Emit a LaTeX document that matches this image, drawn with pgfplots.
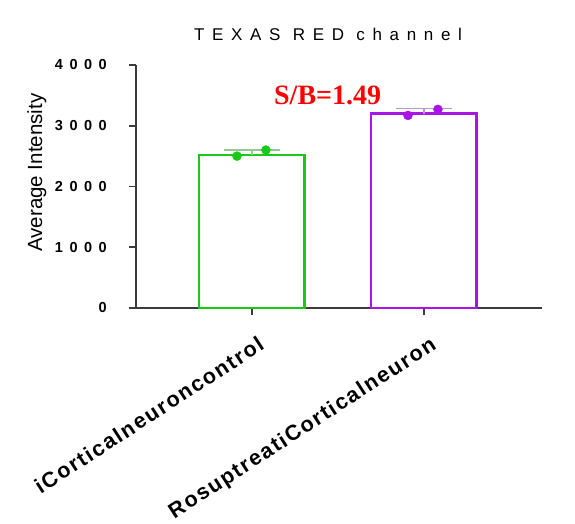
\documentclass[border=0pt]{standalone}
\usepackage{fontspec}
\setmainfont{Liberation Sans}
\newfontfamily\spaced[LetterSpace=45]{Liberation Sans}
\newfontfamily\spacedbold[LetterSpace=8]{Liberation Sans Bold}
\newfontfamily\digitbold[LetterSpace=45]{Liberation Sans Bold}
\newfontfamily\timesbold{Liberation Serif Bold}
\usepackage{pgfplots}
\pgfplotsset{compat=1.18}
\definecolor{cgreen}{RGB}{25,200,25}
\definecolor{cpurple}{RGB}{170,20,230}
\definecolor{axgray}{RGB}{60,60,60}
\begin{document}
\begin{tikzpicture}
\begin{axis}[
  scale only axis,
  width=406pt, height=243pt,
  xmin=-0.674, xmax=1.686,
  ymin=0, ymax=4000,
  axis x line*=bottom, axis y line*=left,
  axis line style={axgray, line width=1.6pt},
  xtick={0,1},
  xticklabels={iCorticalneuroncontrol, RosuptreatiCorticalneuron},
  xticklabel style={rotate=33, anchor=north east, font=\spacedbold\fontsize{21.5}{21.5}\selectfont, inner sep=0pt, xshift=-6.7pt, yshift=-19.6pt},
  ytick={0,1000,2000,3000,4000},
  yticklabels={0,1000,2000,3000,4000},
  yticklabel style={font=\digitbold\fontsize{14.5}{14.5}\selectfont, inner sep=0pt, xshift=-22pt},
  tick style={axgray, line width=1.6pt},
  major tick length=7pt,
  tick align=outside,
  ylabel={Average Intensity},
  ylabel style={font=\fontsize{20.5}{20.5}\selectfont, at={(axis description cs:0,0.557)}, anchor=south, yshift=86pt},
  title={\spaced TEXAS RED channel},
  title style={font=\fontsize{17}{17}\selectfont, at={(rel axis cs:0.473,1)}, anchor=south, yshift=15pt},
  clip=false,
]
\addplot[ybar, bar width=0.615, draw=cgreen, fill=white, line width=2.8pt, bar shift=0pt] coordinates {(0,2520)};
\addplot[ybar, bar width=0.615, draw=cpurple, fill=white, line width=2.8pt, bar shift=0pt] coordinates {(1,3200)};
\addplot[only marks, mark=*, mark size=0pt, draw=none,
  error bars/.cd, y dir=plus, y explicit,
  error bar style={cgreen!50!gray!60, line width=1.2pt},
  error mark options={rotate=90, mark size=28pt, line width=1.2pt, cgreen!50!gray!60}]
  coordinates {(0,2520) +- (0,80)};
\addplot[only marks, mark=*, mark size=0pt, draw=none,
  error bars/.cd, y dir=plus, y explicit,
  error bar style={cpurple!50!gray!60, line width=1.2pt},
  error mark options={rotate=90, mark size=28pt, line width=1.2pt, cpurple!50!gray!60}]
  coordinates {(1,3200) +- (0,80)};
\addplot[only marks, mark=*, mark size=4.5pt, cgreen] coordinates {(-0.087,2500) (0.081,2600)};
\addplot[only marks, mark=*, mark size=4.5pt, cpurple] coordinates {(0.907,3170) (1.081,3270)};
\node[font=\timesbold\fontsize{28}{28}\selectfont, text=red] at (axis cs:0.44,3500) {S/B=1.49};
\end{axis}
\pgfresetboundingbox
\path[use as bounding box] (-136pt,-216pt) rectangle (439pt,308pt);
\end{tikzpicture}
\end{document}
